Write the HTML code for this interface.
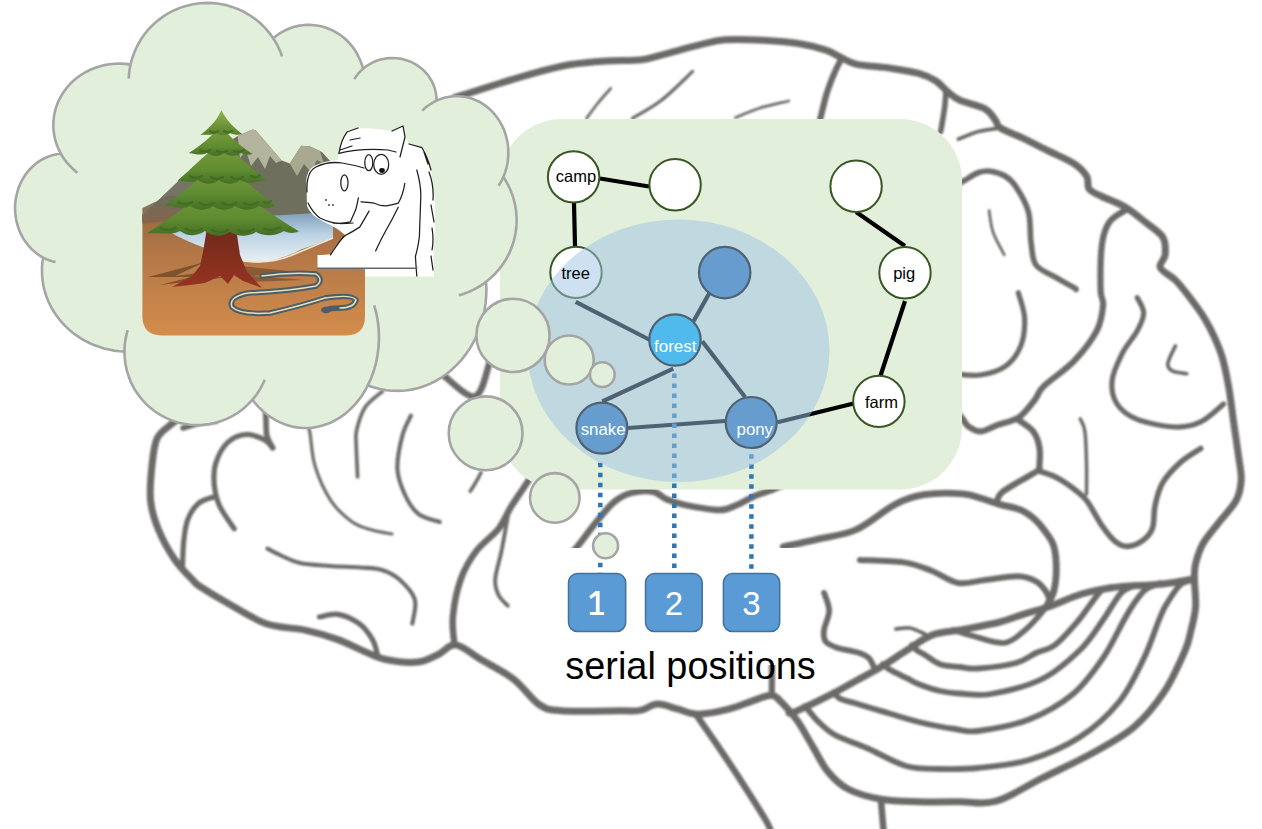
<!DOCTYPE html>
<html><head><meta charset="utf-8"><title>serial positions</title>
<style>
html,body{margin:0;padding:0;background:#fff;}
body{width:1262px;height:829px;overflow:hidden;font-family:"Liberation Sans",sans-serif;}
svg{display:block;}
</style></head><body>
<svg width="1262" height="829" viewBox="0 0 1262 829" font-family="Liberation Sans, sans-serif">
<rect width="1262" height="829" fill="#fff"/>
<defs><filter id="bl" x="-5%" y="-5%" width="110%" height="110%"><feGaussianBlur stdDeviation="0.85"/></filter></defs>
<g fill="none" stroke="#6c6b67" stroke-linecap="round" stroke-linejoin="round" filter="url(#bl)">
<path d="M455 97.5C456.9 97 458.7 96.5 466.1 94.2C473.5 91.9 487.9 87.1 499.4 83.5C510.9 79.9 523.2 76 535.1 72.8C547 69.6 558.8 66.5 570.7 64.5C582.6 62.5 594.5 61.7 606.4 60.9C618.3 60.1 632.1 60.9 642 59.7C651.9 58.5 655.9 56.4 665.8 53.8C675.7 51.2 691.6 46.6 701.5 44.3C711.4 42 715 40.5 725.3 39.8C735.6 39.1 750.6 39.6 763.3 40.3C776 41 790.7 42.3 801.3 44C811.9 45.7 819.9 48.1 826.7 50.4C833.5 52.7 836.9 55.7 841.9 58C846.9 60.3 849 62.6 857 64.3C865 66 879.9 66.6 890 68.1C900.1 69.6 910.3 71.1 917.9 73.2C925.5 75.3 930.5 77.6 935.6 80.8C940.7 84 944.2 89 948.3 92.2C952.4 95.5 953.8 97.5 960 100.3C966.2 103.1 979.4 105.6 985.3 109C991.2 112.4 993 117.3 995.5 120.5C998 123.7 995.9 125 1000.5 128C1005.1 131 1015.3 134.5 1023.3 138.3C1031.3 142.1 1040.2 146.8 1048.7 151C1057.2 155.2 1067.7 159.4 1074 163.6C1080.3 167.8 1084.2 172.1 1086.7 176.3C1089.2 180.5 1086.7 185.6 1089.2 189C1091.7 192.4 1096 193.6 1101.9 196.5C1107.8 199.4 1117.5 202.5 1124.7 206.7C1131.9 210.9 1138.7 216.8 1145 221.9C1151.3 227 1159.3 231.5 1162.7 237C1166.1 242.5 1165.6 249.7 1165.2 254.8C1164.8 259.9 1158.5 263.3 1160.2 267.5C1161.9 271.7 1170.8 275.5 1175.4 280.1C1180 284.7 1182.9 288.5 1188 295.2C1193.1 301.9 1200.3 310.8 1205.8 320.5C1211.3 330.2 1217.2 342.5 1221 353.5C1224.8 364.5 1226.5 375 1228.6 386.4C1230.7 397.8 1231.9 410.1 1233.6 421.9C1235.3 433.7 1237.4 447.6 1238.7 457.3C1240 467 1241.6 472.8 1241.2 480C1240.8 487.2 1240 493.1 1236.2 500.3C1232.4 507.5 1223.9 515.9 1218.4 523.1C1212.9 530.3 1207 536.5 1203.2 543.3C1199.4 550 1197.1 557.7 1195.6 563.6C1194.1 569.5 1194.4 571.6 1194.4 578.8C1194.4 586 1196.2 597.8 1195.6 606.7C1195 615.6 1192.4 624.7 1190.6 632C1188.8 639.3 1189.3 640.7 1185 650.6C1180.7 660.5 1173 678.6 1164.5 691.4C1156 704.2 1145.8 717 1133.9 727.2C1122 737.4 1108.4 744.2 1093.1 752.7C1077.8 761.2 1058.3 770.1 1042.1 778.2C1025.9 786.3 1009.8 797.3 996.1 801.2C982.4 805.1 972.9 801.6 960 801.7C947.1 801.8 932.1 802.1 918.9 801.7C905.7 801.3 892.7 801.3 880.9 799.2C869.1 797.1 856.8 793.6 847.9 789C839 784.4 833.5 778.5 827.6 771.3C821.7 764.1 817.5 754.3 812.4 745.9C807.3 737.5 802.3 727.8 797.2 720.6C792.1 713.4 786.2 707 782 702.8C777.8 698.6 776.4 695.6 771.8 695.2C767.1 694.8 761.3 698 754.1 700.3C746.9 702.6 738 706.9 728.7 709.2C719.4 711.5 706.8 714.2 698.3 714.2C689.8 714.2 684.8 710.9 678 709.2C671.2 707.5 664 703.9 657.7 704.1C651.4 704.3 646.3 709.3 640 710.4C633.7 711.5 633.1 710.7 620 710.8C606.9 710.9 574.6 711.8 561.1 710.8C547.6 709.8 547 709.7 539.1 704.5C531.2 699.3 523.4 686.7 514 679.4C504.6 672.1 492.4 666.4 482.7 660.6C473 654.9 463.3 646 456 644.9C448.7 643.8 445.2 651.3 438.8 654.2C432.4 657.1 426.5 661.2 417.6 662.1C408.8 663 394.6 661.3 385.7 659.5C376.8 657.7 372.4 654.8 364.5 651.5C356.6 648.2 347.7 643.1 338 639.6C328.3 636.1 318.1 632.9 306.1 630.3C294.2 627.6 279.6 628.3 266.3 623.7C253 619.1 237.6 608.7 226.5 602.5C215.4 596.3 205.6 590.2 200 586.5C194.4 582.8 197.3 584.9 193.1 580.4C188.8 575.9 180.2 567.6 174.5 559.2C168.8 550.8 162.6 539.7 158.6 530C154.6 520.3 151.7 511.4 150.6 500.8C149.5 490.2 150.8 476.7 151.9 466.3C153 455.9 153.9 445.4 157.1 438.4C160.3 431.4 167.5 427.6 171.3 424.2C175.1 420.8 178.6 419 180 418" stroke-width="7"/>
<path d="M841.9 58C840.6 60.5 836.8 67.3 834.3 73.2C831.8 79.1 829 85.9 826.7 93.5C824.4 101.1 821.8 112.7 820.3 118.8C818.8 124.9 818.4 128.1 818 130" stroke-width="6.2"/>
<path d="M946 90C945.8 93.1 945.4 101.8 944.5 108.7C943.6 115.6 941.3 127.7 940.7 131.5" stroke-width="5.6"/>
<path d="M1000.5 128C996.9 128.6 985.7 129.7 978.7 131.5C971.7 133.3 961.8 137.8 958.4 139" stroke-width="3.8"/>
<path d="M735.5 117.5C739.6 115.9 751.1 110.8 760 108C768.9 105.2 783.9 102.2 788.7 101" stroke-width="2.8"/>
<path d="M586.5 118.4C588.4 115.8 594 108 598 103C602 98 608.6 90.8 610.7 88.3" stroke-width="2.8"/>
<path d="M632.4 118.4C637.2 115.4 651.3 108.1 661.4 100.3C671.5 92.5 687.5 76.2 692.7 71.4" stroke-width="3.2"/>
<path d="M955 186C956.4 185.2 959.5 183.2 963.5 181C967.5 178.8 974.2 174.1 978.7 172.5C983.2 170.9 986 170.6 990.4 171.2C994.8 171.8 1000.8 173.5 1005 176C1009.2 178.5 1011.8 180.5 1015.7 186.4C1019.6 192.3 1025.9 202.4 1028.4 211.7C1031 221 1029.7 233.2 1031 242.1C1032.3 251 1031.8 259.1 1036 265C1040.2 270.9 1050 273.8 1056.3 277.6C1062.6 281.4 1070.7 285.7 1074 287.7C1077.3 289.7 1075.7 289.2 1076 289.5" stroke-width="5.6"/>
<path d="M989.1 210.5C989.8 214.1 990.5 224.6 993 232C995.5 239.4 1002.4 251 1004.3 254.8" stroke-width="2.8"/>
<path d="M1127.2 209.2C1124.2 211.3 1113.7 216 1109.5 221.9C1105.3 227.8 1103.4 233.3 1101.9 244.7C1100.4 256.1 1100.4 279.9 1100.6 290C1100.8 300.1 1103.7 298.5 1103.1 305.3C1102.5 312.1 1101.6 321.4 1096.8 330.7C1092 340 1082.9 351.8 1074 361.1C1065.1 370.4 1050.1 379.9 1043.6 386.4C1037 392.9 1038.8 394.9 1034.7 400C1030.6 405.1 1025.3 413.1 1019 417.3C1012.7 421.5 1003.4 422.8 997.1 425.1C990.8 427.5 986.1 431.1 981.4 431.4C976.7 431.7 971.9 428.8 968.8 426.7C965.6 424.6 964.8 421.6 962.5 418.8C960.2 416 956.2 411.5 955 410" stroke-width="6.2"/>
<path d="M1018.3 292.7C1019.3 296.9 1024.2 309.1 1024.6 318C1025 326.9 1024 337.9 1020.8 345.9C1017.6 353.9 1012.4 361.2 1005.6 366.1C998.9 371 988.7 373.7 980.3 375C971.9 376.3 959.2 374.2 955 374" stroke-width="5.2"/>
<path d="M1019 420.4C1021.4 422.2 1029.7 426.9 1033.1 431.4C1036.5 435.8 1038.4 441.4 1039.4 447.1C1040.5 452.9 1039.7 462 1039.4 465.9C1039.1 469.8 1041.2 468 1037.8 470.6C1034.4 473.2 1025 478 1019 481.6C1013 485.2 1005.4 489.4 1001.8 492.5C998.1 495.6 997.9 499.1 997.1 500.4" stroke-width="6.2"/>
<path d="M1037.8 470.6C1040.2 471.4 1048.1 473.7 1052 475.3C1055.9 476.9 1057.9 478.1 1061.3 480.2C1064.7 482.3 1068.2 484.4 1072.4 487.8C1076.6 491.2 1081.6 494.1 1086.5 500.4C1091.4 506.7 1097.2 518.9 1101.9 525.6C1106.6 532.3 1110.3 537.3 1114.5 540.8C1118.7 544.3 1122.5 546.4 1127.2 546.4C1131.9 546.4 1138.2 543.8 1142.4 540.8C1146.6 537.8 1150.4 534 1152.5 528.1C1154.6 522.2 1153.4 512.9 1155.1 505.3C1156.8 497.7 1158.5 489.9 1162.7 482.7C1166.9 475.5 1174.1 468.1 1180.4 462.4C1186.7 456.7 1197.3 450.8 1200.7 448.5" stroke-width="5.6"/>
<path d="M1080.2 418.8C1081 420.9 1083.9 424.1 1084.9 431.4C1086 438.7 1086.2 452.2 1086.5 462.7C1086.8 473.1 1086.5 488.9 1086.5 494.1" stroke-width="3.5"/>
<path d="M1137.3 297.7C1138.4 300.2 1143.7 307.4 1143.7 312.9C1143.7 318.4 1140.9 323.9 1137.3 330.7C1133.7 337.5 1126.4 345.1 1122.2 353.5C1118 361.9 1112.8 372.9 1112 381.3C1111.2 389.7 1112.9 397.8 1117.1 404.1C1121.3 410.4 1127.6 415.5 1137.3 419.3C1147 423.1 1164.8 426.6 1175.4 427C1186 427.4 1192.7 425.7 1200.7 421.9C1208.7 418.1 1219.7 407.1 1223.5 404.1" stroke-width="5.2"/>
<path d="M1175.4 345.9C1174.1 348.8 1168.2 359.4 1167.8 363.6C1167.4 367.8 1169.6 369.5 1172.8 371.2C1176 372.9 1184.5 373.3 1186.8 373.7" stroke-width="3.7"/>
<path d="M783.2 546.8C789 545.5 805.7 542 817.9 539.1C830.1 536.2 843.6 535.3 856.5 529.5C869.4 523.7 883.8 510.2 895 504.4C906.2 498.6 912.7 496.5 924 494.7C935.3 492.9 953 493.1 962.6 493.8C972.2 494.5 975.7 496.8 981.9 498.6C988.1 500.4 993.5 502.5 1000 504.4C1006.5 506.3 1014.8 507.3 1020.6 509.8C1026.4 512.3 1030.8 515.8 1034.7 519.2C1038.6 522.6 1040.9 525.5 1044.1 530C1047.3 534.5 1051.7 539.4 1053.7 545.9C1055.7 552.4 1056.3 561.1 1056.3 568.7C1056.3 576.3 1055.4 585.2 1053.7 591.5C1052 597.8 1047.4 604.2 1046.1 606.7" stroke-width="6.8"/>
<path d="M1194.4 578.8C1189.1 579.6 1176.4 582.4 1162.7 583.9C1149 585.4 1125.5 586 1112 587.7C1098.5 589.4 1092.1 590.8 1081.6 594C1071 597.2 1058.4 603.3 1048.7 606.7C1039 610.1 1031.4 611.8 1023.3 614.3C1015.2 616.8 1010 619.5 1000 622C990 624.5 974.7 627.3 963.4 629.5C952.1 631.7 941.5 631.6 932.1 635.1C922.7 638.6 915.2 645 906.8 650.3C898.3 655.6 889.8 661.7 881.4 666.8C873 671.9 864.5 676.1 856.1 680.7C847.7 685.4 840.6 689.6 830.7 694.7C820.8 699.8 803.5 708.1 796.5 711.1C789.5 714.1 790.2 712.7 789 713" stroke-width="7"/>
<path d="M860 560C867.3 560.4 892 560.6 904 562.4C916 564.2 923 567.6 932 571C941 574.4 949.2 581.5 958 583C966.8 584.5 975 581.1 985 580C995 578.9 1009.5 576.1 1018 576.3C1026.5 576.5 1031.3 578.8 1036 581.3C1040.7 583.8 1043.5 587.7 1046 591.5C1048.5 595.3 1050.2 601.9 1051 604" stroke-width="6"/>
<path d="M953 630C956.3 631 964.5 633.8 973 636C981.5 638.2 995.5 643.8 1004 643C1012.5 642.2 1018.3 635.3 1024 631C1029.7 626.7 1034.3 621 1038 617C1041.7 613 1044.7 608.7 1046 607" stroke-width="5.6"/>
<path d="M1192 580C1190 580.8 1184.3 580.8 1180 585C1175.7 589.2 1169.5 599.2 1166 605C1162.5 610.8 1162.7 611.2 1159 620C1155.3 628.8 1150.7 644.3 1144 658C1137.3 671.7 1129.7 688.8 1119 702C1108.3 715.2 1095 727.3 1080 737C1065 746.7 1046 754.8 1029 760C1012 765.2 992.8 766.5 978 768C963.2 769.5 952 769.3 940 769C928 768.7 918 769.4 906 766C894 762.6 879.8 753.7 868 748.5C856.2 743.3 843.3 739.5 835 735C826.7 730.5 822.3 725.3 818 721.3C813.7 717.3 811.2 713.5 809 711C806.8 708.5 805.7 706.8 805 706" stroke-width="5.8"/>
<path d="M1160 583C1157.5 584.2 1149.5 586.3 1145 590C1140.5 593.7 1136.5 600 1133 605C1129.5 610 1129 611.2 1124 620C1119 628.8 1111.5 645.7 1103 658C1094.5 670.3 1085.3 683.8 1073 694C1060.7 704.2 1044.8 713.3 1029 719.5C1013.2 725.7 990.3 729.4 978 731C965.7 732.6 962.7 730 955 729C947.3 728 940 726.7 932 725C924 723.3 915.2 721 906.8 718.7C898.4 716.4 889.8 713.6 881.4 711.1C873 708.6 863.1 705.6 856.1 703.5C849.1 701.4 843.3 700.4 839.6 698.5C835.9 696.6 834.9 693.1 834 692" stroke-width="5.8"/>
<path d="M1135 585C1132.8 586.2 1125.8 588.5 1122 592C1118.2 595.5 1115.2 601.3 1112 606C1108.8 610.7 1108.3 612.7 1103 620C1097.7 627.3 1090.2 640.2 1080 650C1069.8 659.8 1056.8 671.7 1042 679C1027.2 686.3 1004.7 691.6 991 694C977.3 696.4 968.5 694 960 693.5C951.5 693 946.8 692.5 940 691C933.2 689.5 925 686.6 919.5 684.5C914 682.4 911.9 680.7 906.8 678.2C901.7 675.7 893 671.7 889 669.3C885 666.9 884 664.9 883 664" stroke-width="5.8"/>
<path d="M1112 587C1110.3 587.5 1105.7 587 1102 590C1098.3 593 1094 599.8 1090 605C1086 610.2 1083.8 614.3 1078 621C1072.2 627.7 1062 639.7 1055 645C1048 650.3 1042.5 650 1036 653C1029.5 656 1025.7 660.4 1016 663C1006.3 665.6 987.3 667.8 978 668.5C968.7 669.2 966.3 667.7 960 667C953.7 666.3 945.7 666.1 940 664.2C934.3 662.3 929.6 657.7 925.8 655.4C922 653.1 919.3 652 917 650.3C914.7 648.6 912.8 645.9 912 645" stroke-width="5.8"/>
<path d="M824.1 592.9C825 595.9 829.2 604.5 829.2 610.7C829.2 616.9 824.6 624.9 824 630C823.4 635.1 823.4 638.4 825.6 641.4C827.8 644.4 831.5 645.8 837 647.7C842.5 649.6 853.3 651.1 858.6 652.8C863.9 654.5 866.2 655.6 868.7 657.9C871.2 660.2 872.9 665.3 873.8 666.8" stroke-width="5.8"/>
<path d="M896 629C898.3 628.8 905.2 627.2 910 628C914.8 628.8 922.5 633 925 634" stroke-width="3.8"/>
<path d="M771.8 695.2L772 660" stroke-width="6.2"/>
<path d="M695.8 714.2C699.2 719.1 708.5 732.2 716.1 743.4C723.7 754.6 733 768.3 741.4 781.4C749.8 794.5 761.7 812.9 766.8 822C771.9 831.1 771.1 833.7 772 836" stroke-width="6.5"/>
<path d="M880.9 799.2C881.3 804.2 882.9 822.9 883.4 829C883.9 835.1 883.9 834.8 884 836" stroke-width="6.5"/>
<path d="M454.5 644.9C454.2 640.2 451.8 627.7 452.9 616.7C453.9 605.7 456.9 590.1 460.8 579.1C464.7 568.1 470.1 559.2 476.4 550.9C482.7 542.5 492.6 536.3 498.4 529C504.1 521.7 506.7 513.8 510.9 507C515.1 500.2 520.3 492.9 523.4 488.2C526.5 483.5 527.8 481.8 529.7 478.8C531.6 475.8 534.1 471.5 535 470" stroke-width="6.5"/>
<path d="M507.8 516.4C506.8 522.1 503.6 540.4 501.5 550.9C499.4 561.4 495.7 571.8 495.2 579.1C494.7 586.4 496.3 590.3 498.4 594.8C500.5 599.2 506.2 604 507.8 605.8" stroke-width="3.9"/>
<path d="M481.1 472.5C480.2 474.1 477.8 478.9 476 482C474.2 485.1 471.2 489.8 470.2 491.3" stroke-width="3.5"/>
<path d="M571 554C572.5 552.2 575.6 548.8 580 543.2C584.4 537.6 591.6 527.6 597.4 520.6C603.2 513.6 609.1 506 614.9 501.4C620.7 496.8 625.9 494.3 632.3 492.7C638.7 491.1 647.4 490.6 653.2 491.8C659 493 662 497.4 667.2 499.6C672.4 501.8 675.9 503.1 684.6 504.9C693.3 506.6 710.8 510.1 719.5 510.1C728.2 510.1 731.1 507.2 736.9 504.9C742.7 502.6 748.5 498.7 754.3 496.2C760.1 493.7 766.7 492 771.8 490C776.9 488 782.8 485 785 484" stroke-width="6.5"/>
<path d="M265 400C265.2 403.3 265.7 414.1 266 420C266.3 425.9 265.8 431 266.9 435.6C268 440.2 271.7 445.8 272.7 447.8" stroke-width="5.6"/>
<path d="M272.7 447.8C271.4 446.5 269.1 442 264.7 439.8C260.2 437.6 252.2 434.1 246 434.5C239.8 434.9 232.7 437.6 227.6 442.5C222.5 447.4 217.8 456.6 215.6 463.7C213.4 470.8 213.6 477.9 214.3 485C215 492.1 216.3 498.7 219.6 506C222.9 513.3 231.8 524.9 234.2 528.7" stroke-width="5.2"/>
<path d="M214.3 496.8C211.7 497.9 202.8 499.7 198.4 503.5C194 507.3 190.2 513.2 187.8 519.4C185.4 525.6 184.7 532.8 183.8 540.6C182.9 548.4 182.7 561.8 182.5 566" stroke-width="5.2"/>
<path d="M307 422C307.5 423.7 308.4 424.6 309.8 432C311.2 439.4 311.6 454.8 315.1 466.3C318.6 477.8 324.8 491.5 331 500.8C337.2 510.1 345.5 517.1 352.3 522C359.1 526.9 365.4 528 372 530C378.6 532 388.7 533.3 392 534" stroke-width="3.2"/>
<path d="M382.4 391.4C379.5 394 369.6 400.6 365.3 407C361 413.4 358.2 423.6 356.7 429.9C355.2 436.2 356 437.2 356.2 445C356.4 452.8 357.4 471.6 357.6 476.9" stroke-width="3.7"/>
<path d="M410.9 415.6C409.5 418.9 404.6 426.7 402.4 435.6C400.1 444.5 396.9 459 397.4 469C397.9 479 401.8 488 405.3 495.5C408.8 503 412.9 509.7 418.6 514.1C424.4 518.5 436.3 520.7 439.8 522" stroke-width="4.1"/>
<path d="M267.4 548.6C269.8 549.8 276.6 553.6 282 556C287.4 558.4 292 561.3 300 563C308 564.7 320 565.2 330 566C340 566.8 351.3 566.8 360 567.5C368.7 568.2 375.3 567.9 382 570C388.7 572.1 394.5 575 400 580C405.5 585 412.8 592.5 414.9 599.8C416.9 607.1 412.7 619.7 412.3 623.7" stroke-width="4.1"/>
<path d="M319.4 617C322.5 616.6 331.4 613.3 338 614.4C344.6 615.5 353.4 619.5 359.2 623.7C364.9 627.9 369.4 634.3 372.5 639.6C375.6 644.9 376.9 652.9 377.8 655.5" stroke-width="5.2"/>
<path d="M183 428C185.8 427.2 194.5 424.2 200 423C205.5 421.8 213.3 421.3 216 421" stroke-width="5.6"/>
<path d="M420 358C423.3 360.4 430.9 366.1 440 372.5C449.1 378.9 466.4 398.2 474.7 396.4C483 394.6 486.6 369.3 490 361.6C493.4 353.9 494.2 351.9 495 350" stroke-width="6.5"/>
</g>
<rect x="560" y="548" width="240.5" height="117" fill="#fff"/>
<rect x="500" y="119" width="462" height="370.5" rx="61.8" fill="#e2efda"/>
<g stroke="#000" stroke-width="4.2" fill="none">
<path d="M600 178.5L649 186.5"/>
<path d="M574 203L575 246"/>
<path d="M575.7 301.9L652 341"/>
<path d="M693.6 321.1L710 292"/>
<path d="M673.3 368.7L602.3 401.5"/>
<path d="M702.2 341.2L745 397"/>
<path d="M628 428L725 421"/>
<path d="M777.5 422.3L853.6 403.5"/>
<path d="M880.4 376L905 301"/>
<path d="M856.1 212L905 246"/>
</g>
<g stroke="#385723" stroke-width="2" fill="#fff">
<circle cx="573.6" cy="176.9" r="25.7"/>
<circle cx="675.1" cy="184.8" r="25.7"/>
<circle cx="576" cy="272.4" r="25.7"/>
<circle cx="856.1" cy="186.3" r="25.7"/>
<circle cx="905" cy="272.8" r="25.7"/>
<circle cx="878.9" cy="401.4" r="25.7"/>
</g>
<g stroke="#000" stroke-width="2.2">
<circle cx="724.7" cy="272.6" r="25.7" fill="#2e75b6"/>
<circle cx="675" cy="340" r="25.7" fill="#00b0f0"/>
<circle cx="601.9" cy="428.1" r="25.5" fill="#2e75b6"/>
<circle cx="751.2" cy="422.5" r="25.5" fill="#2e75b6"/>
</g>
<g stroke="#2e75b6" stroke-width="4.5" stroke-dasharray="4.5 5.5" fill="none">
<path d="M600.3 462.75V578"/>
<path d="M674.3 373.55V568.2"/>
<path d="M751.4 454.25V568.8"/>
</g>
<ellipse cx="678.5" cy="350.8" rx="151" ry="131.2" fill="#9dc3e6" fill-opacity="0.5"/>
<g font-size="16.5" text-anchor="middle" fill="#000">
<text x="576" y="181.9">camp</text>
<text x="575.6" y="278.9">tree</text>
<text x="904.2" y="279.4">pig</text>
<text x="881.4" y="407.9">farm</text>
</g>
<g font-size="16.8" text-anchor="middle" fill="#fff">
<text x="675.3" y="351.8" font-size="17">forest</text>
<text x="603.1" y="435">snake</text>
<text x="754.8" y="435">pony</text>
</g>
<!-- cloud callouts -->
<g fill="#e2efda" stroke="#a5a5a5" stroke-width="2.6">
<path d="M60.8 153.6L58.6 149.2L56.7 144.6L55.2 139.9L54.2 135.1L53.5 130.3L53.3 125.4L53.5 120.5L54.1 115.6L55.1 110.8L56.5 106.1L58.3 101.5L60.5 97.1L63.1 92.8L66 88.7L69.2 84.9L72.8 81.3L76.7 78L80.8 75L85.2 72.3L89.8 70L94.6 68L99.5 66.4L104.5 65.1L109.7 64.2L114.9 63.7L120.1 63.6L125.4 63.9L130.5 64.6L132.2 58.2L134.5 52L137.2 46L140.4 40.3L144.1 34.8L148.2 29.7L152.8 25L157.7 20.6L163 16.6L168.5 13.2L174.4 10.2L180.5 7.6L186.7 5.7L193.2 4.2L199.7 3.3L206.2 2.9L212.8 3.1L219.3 3.8L225.8 5.1L232.1 6.9L238.3 9.2L244.2 12L249.9 15.3L255.3 19.1L260.4 23.3L265 27.9L269.3 32.9L273.2 38.2L276.4 35.7L279.7 33.4L283.2 31.3L286.9 29.5L290.6 28L294.4 26.8L298.3 25.9L302.3 25.3L306.3 24.9L310.3 24.9L314.3 25.2L318.3 25.7L322.2 26.6L326 27.7L329.8 29.2L333.5 30.9L337 32.9L340.4 35.1L343.6 37.6L346.7 40.3L349.5 43.3L352.2 46.4L354.6 49.8L356.8 53.3L358.7 57L360.4 60.8L361.9 64.7L363.1 68.8L365.9 66.5L368.8 64.6L372 62.8L375.3 61.3L378.7 60.1L382.2 59.2L385.7 58.5L389.3 58.1L393 58L396.6 58.2L400.2 58.6L403.7 59.4L407.2 60.4L410.6 61.7L413.8 63.3L416.9 65.1L419.8 67.2L422.6 69.4L425.1 71.9L427.5 74.6L429.5 77.5L431.4 80.5L433 83.6L434.3 86.9L435.3 90.2L436 93.7L436.4 97.1L436.6 100.6L440.7 98.9L445 97.6L449.4 96.7L453.8 96.2L458.3 96.2L462.7 96.5L467.1 97.3L471.4 98.5L475.6 100.1L479.7 102L483.6 104.4L487.3 107.1L490.8 110.2L494 113.5L496.9 117.2L499.6 121.1L501.9 125.3L503.9 129.6L505.5 134.2L506.8 138.8L507.7 143.6L508.2 148.4L508.3 153.3L508.1 158.2L507.5 163L506.5 167.8L505.1 172.4L503.4 176.9L505.6 180.4L507.6 184.1L509.5 187.8L511.1 191.7L512.6 195.6L513.8 199.6L514.8 203.6L515.6 207.7L516.1 211.9L516.5 216L516.6 220.2L516.5 224.4L516.1 228.5L515.6 232.7L514.8 236.8L513.8 240.8L512.6 244.8L511.1 248.7L509.5 252.6L507.6 256.3L505.6 260L503.3 263.5L500.9 266.9L498.3 270.2L495.5 273.3L492.5 276.3L489.4 279.1L486.1 281.8L486.4 288.9L486.2 296.1L485.6 303.2L484.5 310.3L483 317.2L481.1 324.1L478.7 330.7L476 337.2L472.8 343.4L469.3 349.3L465.3 354.9L461.1 360.3L456.5 365.2L451.7 369.8L446.5 374L441.2 377.7L435.6 381L429.8 383.9L423.8 386.3L417.7 388.2L411.5 389.6L405.2 390.5L398.9 390.9L392.6 390.8L386.3 390.2L380 389.1L373.9 387.5L367.8 385.4L365.2 390.3L362.3 395L359.1 399.4L355.7 403.6L352.1 407.5L348.3 411.1L344.4 414.4L340.2 417.3L335.9 419.9L331.5 422.2L327 424.1L322.4 425.6L317.7 426.8L313 427.6L308.2 428L303.4 428L298.7 427.6L293.9 426.9L289.2 425.8L284.6 424.3L280.1 422.4L275.6 420.2L271.4 417.6L267.2 414.7L263.2 411.4L259.4 407.8L255.8 404L252.4 399.8L248 404.4L243.3 408.7L238.2 412.5L232.8 415.8L227.2 418.6L221.3 421L215.2 422.8L209.1 424.1L202.8 424.9L196.4 425.1L190.1 424.7L183.9 423.8L177.7 422.4L171.7 420.4L165.9 417.9L160.3 414.9L155 411.5L150 407.6L145.3 403.2L141.1 398.5L137.3 393.4L133.9 388.1L131 382.4L128.7 376.5L126.8 370.5L125.5 364.2L124.7 357.9L124.4 351.6L119.2 351.2L114.1 350.6L108.9 349.6L103.9 348.4L99 346.8L94.1 345.1L89.4 343L84.8 340.7L80.4 338.1L76.1 335.2L72.1 332.2L68.2 328.9L64.6 325.4L61.2 321.7L58.1 317.8L55.2 313.8L52.5 309.5L50.2 305.2L48.1 300.7L46.3 296.1L44.8 291.5L43.6 286.7L42.8 281.9L42.2 277L42 272.2L42 267.3L42.4 262.4L43.1 257.6L39 255.1L35.2 252.3L31.6 249.1L28.3 245.5L25.3 241.6L22.6 237.4L20.4 232.9L18.5 228.3L17 223.4L15.9 218.5L15.3 213.4L15 208.3L15.2 203.2L15.9 198.1L17 193.2L18.4 188.3L20.3 183.7L22.6 179.2L25.2 175L28.2 171.1L31.5 167.5L35.1 164.3L38.9 161.4L43 159L47.3 157L51.7 155.4L56.2 154.3L60.8 153.6Z"/>
<path d="M60.8 153.6L62.1 155.8L63.5 158L64.9 160L66.5 162.1L68.1 164L69.9 165.9L71.7 167.7L73.6 169.5L75.5 171.2L77.5 172.8M130.5 64.6L130.2 65.9L130 67.3L129.7 68.7L129.5 70.1L129.3 71.5L129.1 72.9L129 74.3L128.9 75.7L128.8 77.1L128.7 78.5M273.2 38.2L274.3 39.9L275.3 41.7L276.3 43.4L277.3 45.2L278.2 47L279.1 48.9L279.9 50.7L280.7 52.6L281.4 54.5L282.1 56.4M363.1 68.8L362 69.7L361 70.6L360.1 71.6L359.1 72.6L358.2 73.6L357.4 74.7L356.5 75.8L355.7 76.9L355 78L354.3 79.1M436.6 100.6L435 101.4L433.5 102.2L432 103.1L430.5 104L429 105L427.6 106L426.2 107.1L424.8 108.2L423.5 109.4L422.2 110.6M503.4 176.9L502.9 177.8L502.5 178.7L502.1 179.7L501.6 180.6L501.1 181.5L500.6 182.4L500.1 183.2L499.6 184.1L499.1 185L498.5 185.8M486.1 281.8L483.7 283.6L481.1 285.3L478.5 286.9L475.8 288.5L473.1 289.9L470.3 291.2L467.5 292.4L464.6 293.5L461.7 294.5L458.8 295.3M367.8 385.4L371.1 378.2L373.9 370.5L376.1 362.6L377.6 354.5L378.6 346.3L379 337.9L378.7 329.6L377.8 321.3L376.3 313.2L374.2 305.3M252.4 399.8L253.9 398L255.4 396.1L256.8 394.2L258.1 392.3L259.4 390.3L260.6 388.2L261.7 386.1L262.8 384L263.8 381.9L264.7 379.7M124.4 351.6L124.5 349.4L124.6 347.2L124.7 345L125 342.9L125.3 340.7L125.6 338.6L126.1 336.4L126.6 334.3L127.1 332.2L127.7 330.1M43.1 257.6L44.3 258.2L45.5 258.8L46.7 259.3L48 259.8L49.2 260.3L50.5 260.7L51.7 261.1L53 261.5L54.3 261.8L55.6 262.1" fill="none"/>
<circle cx="513" cy="335.4" r="36.6"/>
<circle cx="569.2" cy="360" r="24.5"/>
<circle cx="602.3" cy="374.6" r="12.4"/>
<circle cx="485.6" cy="433.3" r="36.9"/>
<circle cx="554.8" cy="497.9" r="24.8"/>
<circle cx="605.6" cy="545.8" r="12.5"/>
</g>
<defs>
<linearGradient id="gGround" x1="0" y1="0" x2="0" y2="1">
<stop offset="0" stop-color="#9a6a40"/><stop offset="0.3" stop-color="#b27646"/><stop offset="1" stop-color="#d38d4c"/>
</linearGradient>
<linearGradient id="gTree" x1="0" y1="0" x2="0" y2="1">
<stop offset="0" stop-color="#7ea13e"/><stop offset="0.7" stop-color="#5f8b31"/><stop offset="1" stop-color="#456f25"/>
</linearGradient>
<linearGradient id="gTreeTop" x1="0" y1="0" x2="0" y2="1">
<stop offset="0" stop-color="#93b64c"/><stop offset="1" stop-color="#587f2c"/>
</linearGradient>
<linearGradient id="gLake" x1="0" y1="0" x2="0" y2="1">
<stop offset="0" stop-color="#7e9fb8"/><stop offset="0.45" stop-color="#bcd3e4"/><stop offset="1" stop-color="#e8f0f5"/>
</linearGradient>
<linearGradient id="gTrunk" x1="0" y1="0" x2="0" y2="1">
<stop offset="0" stop-color="#6f2a1a"/><stop offset="1" stop-color="#973322"/>
</linearGradient>
<linearGradient id="gFoot" x1="0" y1="0" x2="0" y2="1">
<stop offset="0" stop-color="#6b6a5e"/><stop offset="1" stop-color="#8a6446"/>
</linearGradient>
</defs>
<!-- ground -->
<path d="M142.4 214H365V316Q365 335.4 346 335.4H162Q142.4 335.4 142.4 316Z" fill="url(#gGround)"/>
<!-- mountains -->
<path d="M142.4 215.5L201.9 158.7L237.7 136L252.4 129.4L255.6 130.2L281.7 160.4L289.8 163.6L301.2 145.7L310 146.5L322 152L332 163L342 178V222H142.4Z" fill="#6e705d"/>
<path d="M142.4 215.5L201.9 158.7L222 146L214 175L190 200L170 214L142.4 222Z" fill="#757466"/>
<path d="M142.4 208L170 195L200 200L230 212L142.4 224Z" fill="url(#gFoot)" opacity="0.9"/>
<path d="M237.7 136L252.4 129.4L255.6 130.2L281.7 160.4L276 163L270 156L265 169L258 157L251 166L246 151L240 158Z" fill="#b4b39d"/>
<path d="M289.8 163.6L301.2 145.7L310 146.5L320 151L324 164L317 160L311 172L304 164L297 176Z" fill="#a9a890"/>
<!-- lake -->
<path d="M170 224Q205 214 250 217L333 212L333 238Q318 244 302 249Q286 258 264 262Q246 264 236 259L205 248Q183 240 170 232Z" fill="url(#gLake)"/>
<path d="M236 259Q264 266 290 256Q314 246 333 238" stroke="#efe6cf" stroke-width="1.6" fill="none"/>
<!-- root shadows -->
<path d="M148 277L205 262L175 276L215 271L160 285L230 277Z" fill="#6a4527" opacity="0.75"/>
<path d="M240 266L300 272L252 276L305 280L245 282Z" fill="#6a4527" opacity="0.6"/>
<!-- trunk -->
<path d="M207 228L236 228L240 255L247 272L262 288L243 281L234 275L228 284L220 276L205 283L190 285L172 287L192 276L200 266L203 252Z" fill="url(#gTrunk)"/>
<!-- tree foliage -->
<g fill="url(#gTree)">
<path d="M221 178C205 192 180 212 146.5 233.6C160 232 172 236 180 231C188 237 198 236 205 231C212 237 222 237 230 232C238 237 248 237 256 232C265 237 276 236 284 231C290 234 295 233 298.8 231.2C268 212 238 192 221 178Z"/>
<path d="M221 158C208 172 186 190 164.4 206C176 206 182 210 190 206C198 211 206 211 213 206C220 211 228 211 235 206C243 211 252 211 259 206C266 209 271 208 275.2 206C256 190 234 172 221 158Z"/>
<path d="M221 140C210 152 194 166 177.5 180.7C186 181 192 184 198 180C205 185 212 185 219 180C226 185 234 185 240 180C247 184 255 183 265.4 180C250 166 232 152 221 140Z"/>
<path d="M221 126C212 136 200 146 188.9 153C196 154 201 156 207 153C213 157 219 157 224 153C230 157 236 156 241 153C245 155 249 155 252.4 153.9C240 146 229 136 221 126Z"/>
</g>
<path d="M221.4 109.9C218 118 212 126 200.3 135.1C208 134 212 136 216 133C220 136 226 136 230 133C234 135 238 135 242.6 134.3C232 126 225 118 221.4 109.9Z" fill="url(#gTreeTop)"/>
<g fill="none" stroke="#3f6a22" stroke-width="2.2" opacity="0.8" stroke-linecap="round">
<path d="M210 131Q214 134 218 131M224 131Q228 134 232 131"/>
<path d="M200 150Q205 153 210 150M217 151Q222 154 227 151M234 151Q239 153 244 150"/>
<path d="M190 176Q196 180 202 176M211 177Q217 181 223 177M231 177Q237 181 243 177M251 176Q256 179 260 175"/>
<path d="M178 202Q185 206 192 202M200 203Q207 207 214 203M222 203Q229 207 236 203M244 203Q251 207 258 202M264 202Q268 204 271 201"/>
<path d="M160 228Q168 232 176 228M186 229Q194 233 202 229M212 230Q220 234 228 230M238 230Q246 234 254 229M264 229Q272 232 280 227"/>
</g>
<!-- snake -->
<path d="M262 276Q290 272 316 274Q324 280 316 286Q290 291 248 293Q228 297 232 307Q240 315 270 313Q300 306 325 298Q352 294 356 300Q354 308 340 308Q330 308 326 310" fill="none" stroke="#4b5d69" stroke-width="5.5" stroke-linecap="round"/>
<path d="M262 276Q290 272 316 274Q324 280 316 286Q290 291 248 293Q228 297 232 307Q240 315 270 313Q300 306 325 298Q352 294 356 300Q354 308 340 308" fill="none" stroke="#e6dfb4" stroke-width="1.5" stroke-linecap="round"/>
<ellipse cx="326" cy="310" rx="5" ry="3.2" fill="#4b5d69"/>
<!-- horse -->
<path d="M306.5 185Q305 172 314 166Q324 161 338 160L339 153Q342 140 348 131Q360 126 385 130L392 131L403 126L405 137L409 144L422 147.7Q428 158 431 170L434.5 195L435 230L433.5 255L434 276.5L365 276.5V268H317.5V255Q326 255 331 254Q336 244 346 236Q338 228 324 222Q310 215 307 206Z" fill="#fff"/>
<g fill="none" stroke="#1e1e1e" stroke-width="1.25" stroke-linecap="round" stroke-linejoin="round">
<path d="M307 192Q306 172 316 167Q328 161 342 163Q354 165 364 168"/>
<path d="M339 153Q341 140 347 132L358 128M340 150L352 146M350 140L360 138"/>
<path d="M338.8 153.3Q360 148 388 150L396 152"/>
<path d="M392 131L403 126L405 137L400 157"/>
<path d="M409 144L422 147.7Q428 158 431 170M424 152L428 164M429 172Q434 185 433 200M431 205L434 222M432 228Q434 240 432 250M431 256L433 270"/>
<path d="M416.8 170Q421 185 420.8 196.5Q420 220 419.4 236.3Q418 248 415.4 256.3Q416 266 416.8 276"/>
<ellipse cx="368.8" cy="162.7" rx="4" ry="8"/>
<ellipse cx="381.2" cy="164.4" rx="7.5" ry="10"/>
<ellipse cx="344.4" cy="182.8" rx="3.6" ry="8"/>
<path d="M308 203Q313 213 320 218Q330 223 340 223.5Q348 223.5 353 223"/>
<path d="M358.4 197.9Q357 205 355.7 209.8Q353 216 350.4 221.8Q342 224 333 223"/>
<path d="M361 201.8Q368 202 374.3 203.2Q380 206 386.3 205.8Q393 205 398.2 203.2Q403 195 404.8 183.3"/>
<path d="M369 211.1Q364 220 359.7 227.1Q352 232 343.8 236.3Q339 242 335.8 247Q333 251 330.5 254.9"/>
<path d="M398.2 207.2Q392 220 386.3 229.7Q380 241 375.6 250.9"/>
<path d="M317.5 268.2H416.8" stroke="#666" stroke-width="1.6"/>
</g>
<ellipse cx="382" cy="170.5" rx="2.8" ry="2.4" fill="#111"/>
<g fill="#333"><circle cx="326" cy="200" r="0.9"/><circle cx="329" cy="205" r="0.9"/><circle cx="333" cy="205" r="0.9"/></g>

<g fill="#5b9bd5" stroke="#41719c" stroke-width="1.5">
<rect x="568.5" y="573.6" width="57.2" height="57.9" rx="9"/>
<rect x="645.5" y="573.6" width="56.7" height="57.9" rx="9"/>
<rect x="723.4" y="573.6" width="56.3" height="57.9" rx="9"/>
</g>
<path d="M595.7 591H599.6V611.9H604.1V615.1H589.9V611.9H595.9V595.6L590.7 599L589.3 596.3Z" fill="#fff"/>
<g font-size="33" text-anchor="middle" fill="#fff">
<text x="673.9" y="615">2</text>
<text x="751.5" y="615">3</text>
</g>
<text x="565.3" y="679.2" font-size="38.5" textLength="250.5" lengthAdjust="spacingAndGlyphs" fill="#000">serial positions</text>
</svg>
</body></html>
